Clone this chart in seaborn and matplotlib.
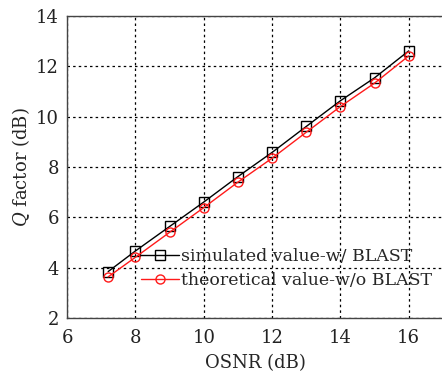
import pandas as pd
import matplotlib
matplotlib.use("Agg")
import matplotlib.pyplot as plt
from matplotlib.lines import Line2D
import seaborn as sns

# data
osnr = [7.2, 8, 9, 10, 11, 12, 13, 14, 15, 16]
q_simulated = [3.85, 4.67, 5.64, 6.61, 7.62, 8.58, 9.61, 10.63, 11.54, 12.61]
q_theoretical = [3.64, 4.42, 5.41, 6.39, 7.40, 8.35, 9.38, 10.40, 11.33, 12.41]
label_sim = "simulated value-w/ BLAST"
label_theo = "theoretical value-w/o BLAST"
colors = {label_sim: "black", label_theo: "#ff1a1a"}
markers = {label_sim: "s", label_theo: "o"}

df = pd.DataFrame({
    "OSNR": osnr * 2,
    "Q": q_simulated + q_theoretical,
    "series": [label_sim] * len(osnr) + [label_theo] * len(osnr),
})

sns.set_style("white")
plt.rcParams["font.family"] = ["DejaVu Serif"]
plt.rcParams["mathtext.fontset"] = "dejavuserif"

fig = plt.figure(figsize=(4.42, 3.77), dpi=100)
ax = fig.add_axes([0.152, 0.156, 0.850, 0.802])

sns.lineplot(data=df, x="OSNR", y="Q", hue="series", style="series",
             palette=colors, markers=markers, dashes=False,
             markerfacecolor="none", markersize=6.5, markeredgewidth=1.0,
             linewidth=1.0, legend=False, ax=ax)

for line in ax.get_lines():
    line.set_markeredgecolor(line.get_color())
    line.set_markerfacecolor("none")

ax.set_xlim(6, 17)
ax.set_ylim(2, 14)
ax.set_xticks([6, 8, 10, 12, 14, 16])
ax.set_yticks([2, 4, 6, 8, 10, 12, 14])
ax.grid(True, color="black", linestyle=(0, (2, 2.5)), linewidth=0.9)
ax.tick_params(direction="in", length=4, labelsize=13, colors="#222222", pad=6)
ax.tick_params(axis="x", pad=8)
for s in ax.spines.values():
    s.set_color("#444444")
    s.set_linewidth(1.0)

ax.set_xlabel("OSNR (dB)", fontsize=13, labelpad=5)
ax.set_ylabel("$Q$ factor (dB)", fontsize=13, labelpad=3)

handles = [Line2D([], [], color=colors[k], marker=markers[k], markersize=6.5,
                  markerfacecolor="none", markeredgecolor=colors[k], linewidth=1.0)
           for k in (label_sim, label_theo)]
ax.legend(handles, [label_sim, label_theo], loc="lower right", frameon=False,
          fontsize=12.5, handlelength=2.2, handletextpad=0.1,
          borderaxespad=0.0, labelspacing=0.45,
          bbox_to_anchor=(0.99, 0.072))

fig.savefig("out.png", dpi=100)
